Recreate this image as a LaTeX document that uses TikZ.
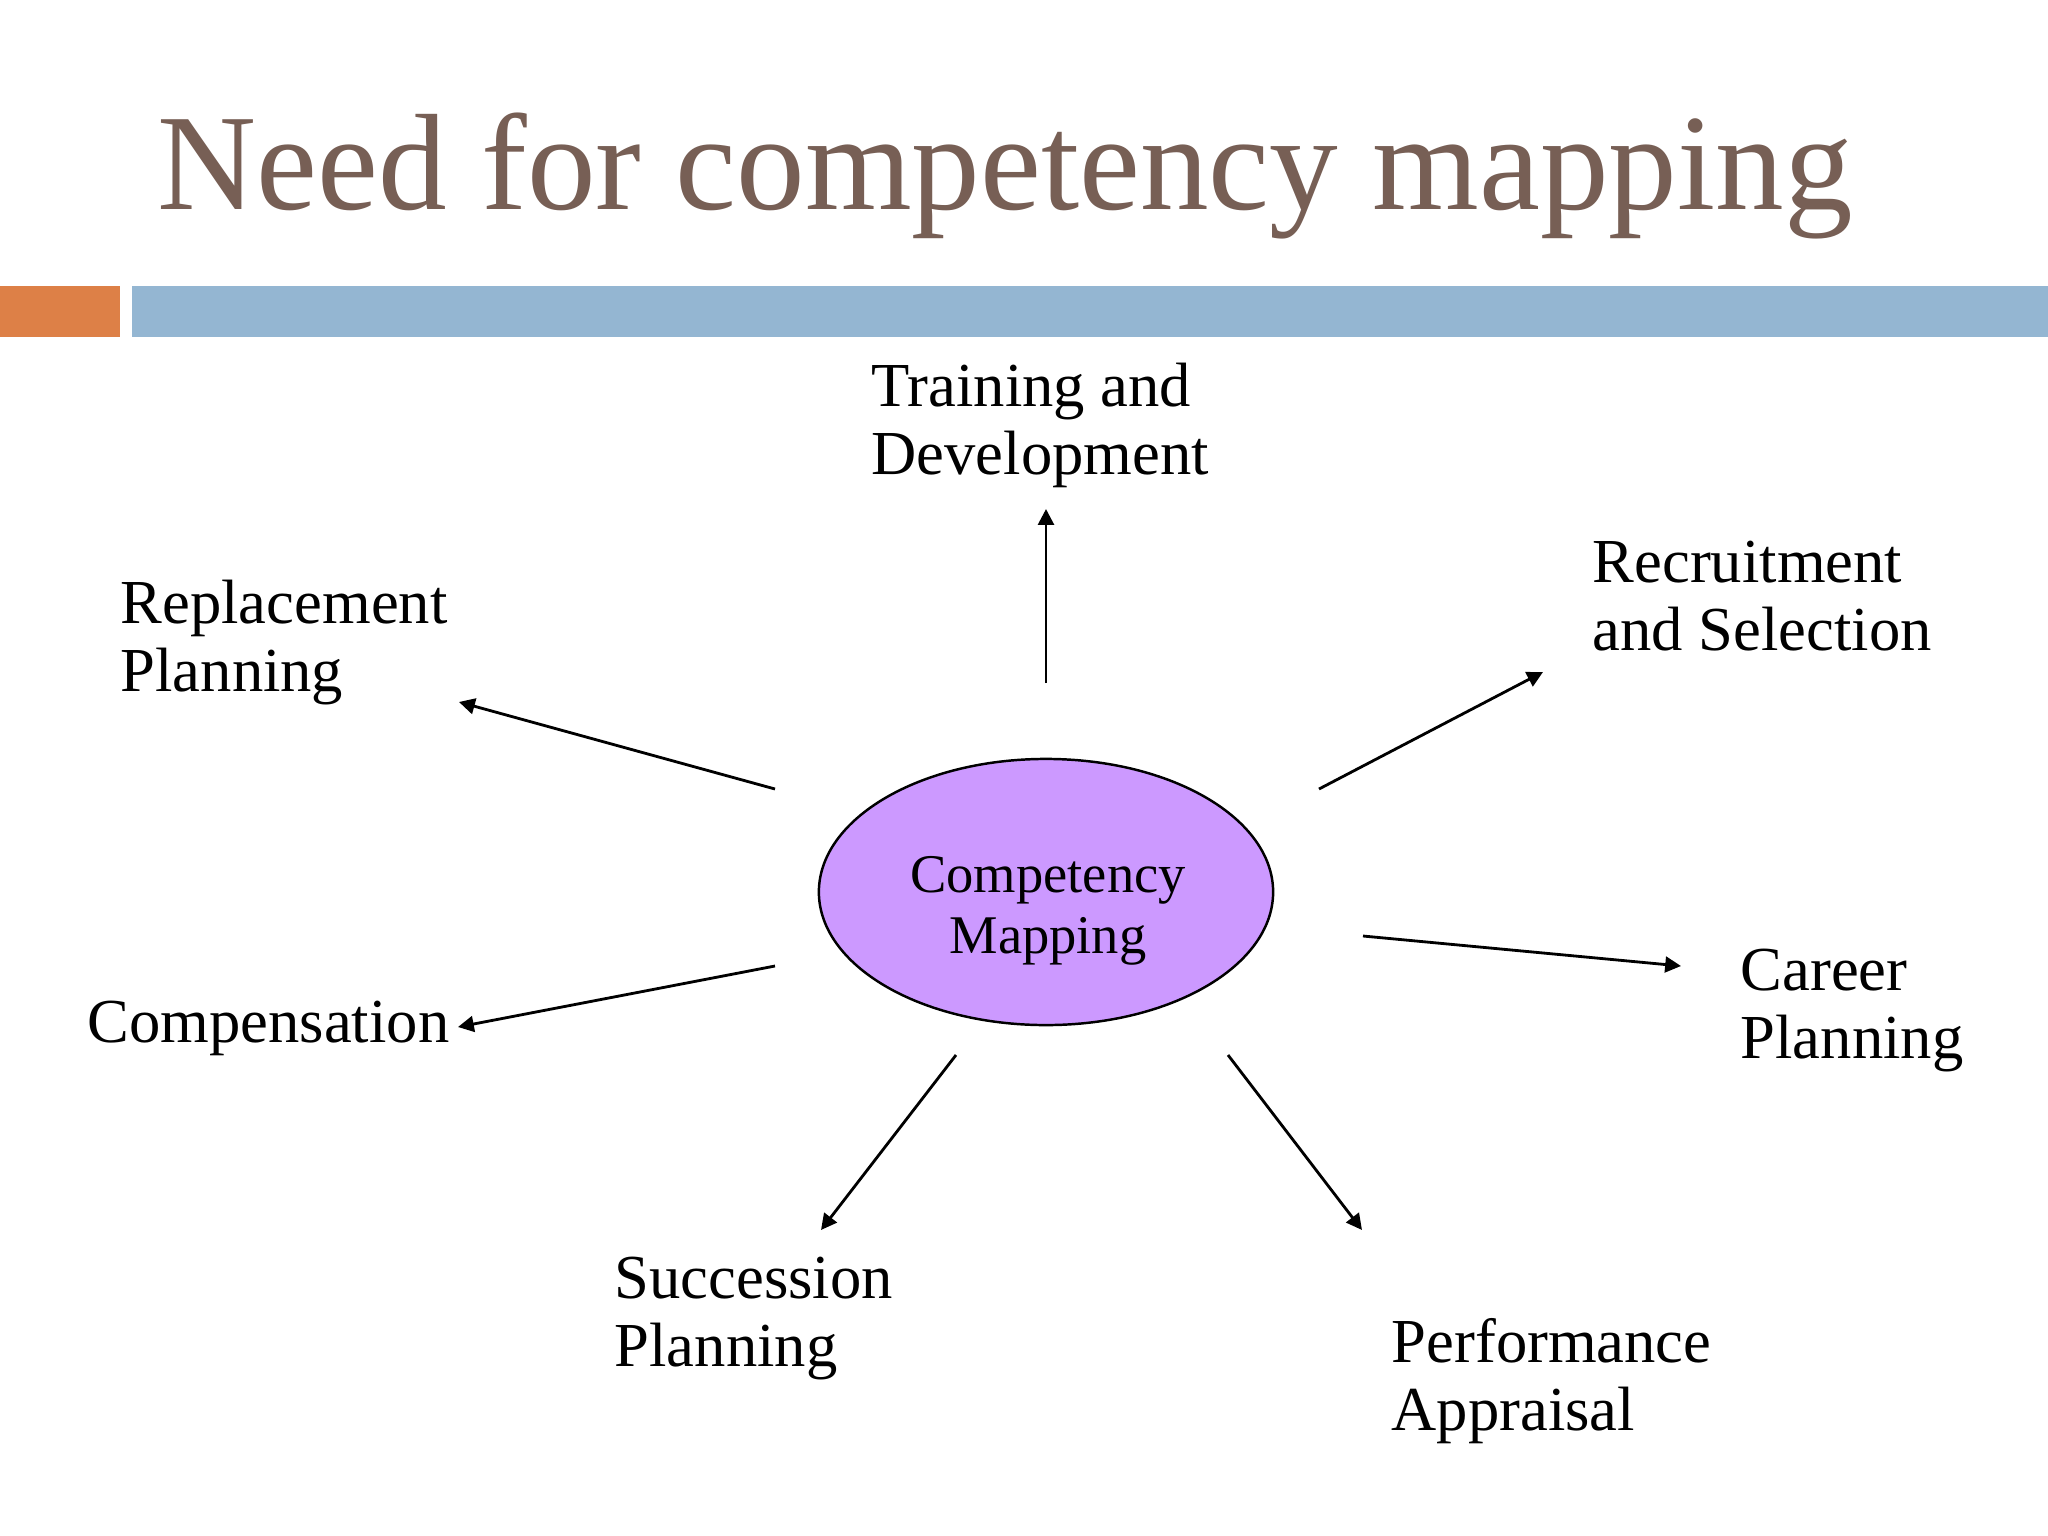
\documentclass[tikz,border=0pt]{standalone}
\usepackage{fontspec}
\setmainfont{Liberation Serif}
\usetikzlibrary{arrows.meta,shapes.geometric}
\definecolor{titlebrown}{HTML}{775F55}
\definecolor{barorange}{HTML}{DD8047}
\definecolor{barblue}{HTML}{94B6D2}
\definecolor{ellfill}{HTML}{CC99FF}
\tikzset{
  lbl/.style={anchor=base west, inner sep=0pt, font=\fontsize{17.8}{19.5}\selectfont},
  conn/.style={line width=0.8pt, -{Triangle[length=4.5pt,width=4.5pt]}},
}
\newcommand{\twolines}[2]{\begin{tabular}[t]{@{}l@{}}#1\\#2\end{tabular}}
\begin{document}
\begin{tikzpicture}[x=0.01cm,y=-0.01cm]
\useasboundingbox (0,0) rectangle (2048,1536);
\fill[white] (0,0) rectangle (2048,1536);
% title
\node[anchor=base west, inner sep=0pt, text=titlebrown, font=\fontsize{39}{41}\selectfont] (title) at (157,209) {Need for competency mapping};
% bars
\fill[barorange] (0,286) rectangle (120,337);
\fill[barblue] (132,286) rectangle (2048,337);
% center
\node[ellipse, draw=black, line width=0.7pt, fill=ellfill, minimum width=4.54cm, minimum height=2.66cm, inner sep=0pt] (cm) at (1046,892) {};
\node[anchor=base, inner sep=0pt, font=\fontsize{15.5}{17.4}\selectfont] (cmtext) at (1048,892) {\begin{tabular}[t]{@{}c@{}}Competency\\Mapping\end{tabular}};
% labels
\node[lbl] (td) at (871,406) {\twolines{Training and}{Development}};
\node[lbl] (rs) at (1592,582) {\twolines{Recruitment}{and Selection}};
\node[lbl] (rp) at (120,623) {\twolines{Replacement}{Planning}};
\node[lbl] (comp) at (87,1042) {Compensation};
\node[lbl] (cp) at (1740,990) {\twolines{Career}{Planning}};
\node[lbl] (sp) at (614,1298) {\twolines{Succession}{Planning}};
\node[lbl] (pa) at (1391,1362) {\twolines{Performance}{Appraisal}};
% arrow ends
\coordinate (s1) at (1046,683); \coordinate (e1) at (1046,509);
\coordinate (s2) at (775,789);  \coordinate (e2) at (459,702);
\coordinate (s3) at (1319,789); \coordinate (e3) at (1543,672);
\coordinate (s4) at (775,966);  \coordinate (e4) at (458,1027);
\coordinate (s5) at (1363,936); \coordinate (e5) at (1681,966);
\coordinate (s6) at (956,1055); \coordinate (e6) at (821,1230);
\coordinate (s7) at (1228,1055);\coordinate (e7) at (1362,1230);
\draw[conn] (s1) -- (e1);
\draw[conn] (s2) -- (e2);
\draw[conn] (s3) -- (e3);
\draw[conn] (s4) -- (e4);
\draw[conn] (s5) -- (e5);
\draw[conn] (s6) -- (e6);
\draw[conn] (s7) -- (e7);
\end{tikzpicture}
\end{document}
